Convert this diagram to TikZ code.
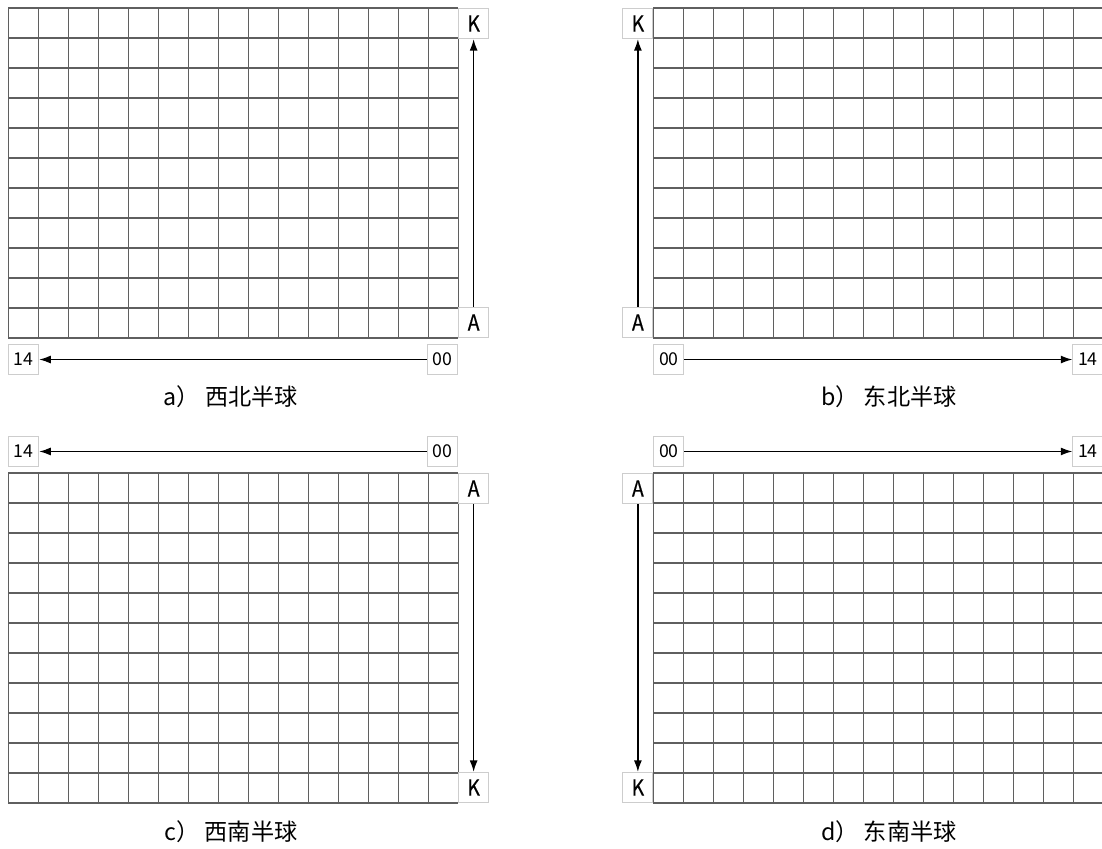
\documentclass[tikz,border=0pt]{standalone}
\usepackage{fontspec}
\setmainfont{Noto Sans CJK SC}
\newfontfamily\tagfont[FakeStretch=0.88, FakeBold=0.5]{Noto Sans CJK SC}
\usetikzlibrary{positioning, arrows.meta}
\definecolor{gridC}{RGB}{95, 95, 95}
\definecolor{boxC}{RGB}{205, 205, 205}

\begin{document}
\begin{tikzpicture}[x=0.5cm, y=0.5cm,
    gridline/.style={gridC, line width=0.5pt},
    tag/.style={draw=boxC, fill=white, line width=0.5pt, minimum size=0.5cm,
                inner sep=0pt, font=\tagfont\fontsize{10.5}{12}\selectfont},
    numtag/.style={tag, font=\fontsize{8.4}{10}\selectfont},
    axisarrow/.style={-{Latex[length=5.5pt, width=3.8pt]}, line width=0.7pt},
    caption/.style={font=\fontsize{11}{13}\selectfont}]
  \useasboundingbox (0,0) rectangle (36.733,28.267);

  % ── a) NW hemisphere: 15 x 11 cells ─────────────────────────────
  \coordinate (aSW) at (0.27,17);
  \coordinate (aSE) at (15.27,17);
  \coordinate (aNE) at (15.27,28);
  \draw[gridline, shift={(aSW)}] (0,0) grid[step=0.5cm] (15,11);
  \node[tag, above right=0pt of aSE] (aA) {A};
  \node[tag, below right=0pt of aNE] (aK) {K};
  \node[numtag, below left=0.1cm and 0pt of aSE] (a00) {00};
  \node[numtag, below right=0.1cm and 0pt of aSW] (a14) {14};
  \draw[axisarrow] (aA) -- (aK);
  \draw[axisarrow] (a00) -- (a14);
  \node[caption] (acap) at (7.7,15.03) {a）\ 西北半球};

  % ── b) NE hemisphere ────────────────────────────────────────────
  \coordinate (bSW) at (21.78,17);
  \coordinate (bSE) at (36.78,17);
  \coordinate (bNW) at (21.78,28);
  \draw[gridline, shift={(bSW)}] (0,0) grid[step=0.5cm] (15,11);
  \node[tag, above left=0pt of bSW] (bA) {A};
  \node[tag, below left=0pt of bNW] (bK) {K};
  \node[numtag, below right=0.1cm and 0pt of bSW] (b00) {00};
  \node[numtag, below left=0.1cm and 0pt of bSE] (b14) {14};
  \draw[axisarrow] (bA) -- (bK);
  \draw[axisarrow] (b00) -- (b14);
  \node[caption] (bcap) at (29.63,15.03) {b）\ 东北半球};

  % ── c) SW hemisphere ────────────────────────────────────────────
  \coordinate (cSW) at (0.27,1.5);
  \coordinate (cSE) at (15.27,1.5);
  \coordinate (cNW) at (0.27,12.5);
  \coordinate (cNE) at (15.27,12.5);
  \draw[gridline, shift={(cSW)}] (0,0) grid[step=0.5cm] (15,11);
  \node[tag, below right=0pt of cNE] (cA) {A};
  \node[tag, above right=0pt of cSE] (cK) {K};
  \node[numtag, above left=0.1cm and 0pt of cNE] (c00) {00};
  \node[numtag, above right=0.1cm and 0pt of cNW] (c14) {14};
  \draw[axisarrow] (cA) -- (cK);
  \draw[axisarrow] (c00) -- (c14);
  \node[caption] (ccap) at (7.7,0.53) {c）\ 西南半球};

  % ── d) SE hemisphere ────────────────────────────────────────────
  \coordinate (dSW) at (21.78,1.5);
  \coordinate (dNW) at (21.78,12.5);
  \coordinate (dNE) at (36.78,12.5);
  \draw[gridline, shift={(dSW)}] (0,0) grid[step=0.5cm] (15,11);
  \node[tag, below left=0pt of dNW] (dA) {A};
  \node[tag, above left=0pt of dSW] (dK) {K};
  \node[numtag, above right=0.1cm and 0pt of dNW] (d00) {00};
  \node[numtag, above left=0.1cm and 0pt of dNE] (d14) {14};
  \draw[axisarrow] (dA) -- (dK);
  \draw[axisarrow] (d00) -- (d14);
  \node[caption] (dcap) at (29.63,0.53) {d）\ 东南半球};
\end{tikzpicture}
\end{document}
